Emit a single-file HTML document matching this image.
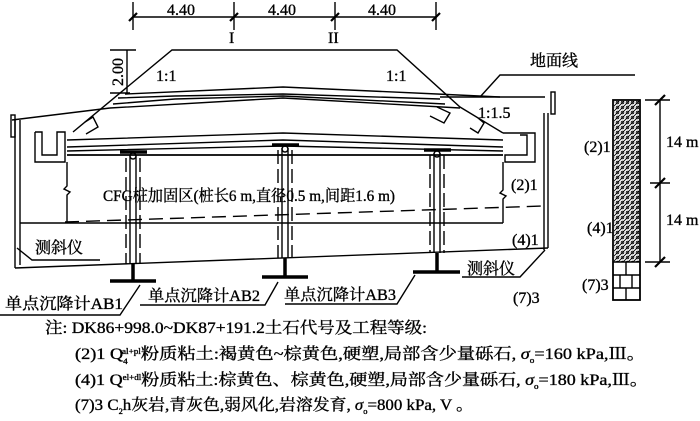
<!DOCTYPE html>
<html><head><meta charset="utf-8"><style>
html,body{margin:0;padding:0;background:#fff}
svg{display:block}
text{font-family:"Liberation Serif","Noto Serif CJK SC",serif;fill:#000;stroke:#000;stroke-width:0.35}
</style></head><body>
<svg width="700" height="421" viewBox="0 0 700 421" xmlns="http://www.w3.org/2000/svg">
<g stroke="#000" fill="none" stroke-width="1.4">
<line x1="133" y1="17" x2="436" y2="17"/>
<line x1="133" y1="2" x2="133" y2="30"/><line x1="234" y1="2" x2="234" y2="30"/>
<line x1="335" y1="2" x2="335" y2="30"/><line x1="436" y1="2" x2="436" y2="30"/>
<g stroke-width="2.2"><line x1="129" y1="21" x2="137" y2="13"/><line x1="230" y1="21" x2="238" y2="13"/><line x1="331" y1="21" x2="339" y2="13"/><line x1="432" y1="21" x2="440" y2="13"/></g>
<line x1="127" y1="50" x2="127" y2="93"/><line x1="110" y1="50" x2="136" y2="50"/><line x1="110" y1="93" x2="130" y2="93"/>
<polyline points="73,132 172,50 397,50 460,107 503,133"/>
<polyline points="125,94 283,87 437,94 500,97"/>
<polyline points="118,98 175,96 283,94 440,99"/>
<polyline points="113,104 175,99 283,96 445,104"/>
<polyline points="110,108 283,98 460,108"/>
<polyline points="12,120 110,108"/>
<polyline points="440,97 545,97"/>
<polyline points="480,97 500,75 635,75"/>
<polyline points="85,122 93,117 98,127 86,134"/>
<polyline points="437,107 450,113 444,123 430,116"/>
<polyline points="478,118 484,123 478,133 470,128"/>
<polyline points="67,140 283,133 503,140"/>
<polyline points="67,147 283,140 503,147"/>
<polyline points="67,151 283,146 503,151"/>
<line x1="67" y1="155" x2="503" y2="155" stroke-width="1.8"/>
<polyline points="35,132 42,132 42,155 57,155 57,132 65,132 65,162 35,162 35,132"/>
<polyline points="503,133 535,133 535,162 505,162 505,155 527,155 527,135 520,135"/>
<rect x="11" y="115" width="4" height="22"/><rect x="551" y="92" width="4" height="22"/>
<line x1="15" y1="120" x2="15" y2="268"/><line x1="20" y1="120" x2="20" y2="265"/>
<line x1="544" y1="113" x2="544" y2="250"/><line x1="548" y1="113" x2="548" y2="248"/>
<line x1="15" y1="268" x2="548" y2="248"/>
<polyline points="67,162 67,186 64,189 70,192 67,195 67,223"/>
<polyline points="503,162 503,190 500,193 506,196 503,199 503,223"/>
<line x1="20" y1="223" x2="503" y2="223"/>
<line x1="65" y1="222" x2="544" y2="206" stroke-dasharray="14,7"/>
<g>
<line x1="130" y1="155" x2="130" y2="264"/><line x1="136" y1="155" x2="136" y2="264"/>
<line x1="126" y1="158" x2="126" y2="264" stroke-dasharray="14,5"/><line x1="140" y1="158" x2="140" y2="264" stroke-dasharray="14,5"/>
<line x1="282" y1="148" x2="282" y2="258"/><line x1="288" y1="148" x2="288" y2="258"/>
<line x1="278" y1="150" x2="278" y2="258" stroke-dasharray="14,5"/><line x1="292" y1="150" x2="292" y2="258" stroke-dasharray="14,5"/>
<line x1="434" y1="153" x2="434" y2="253"/><line x1="440" y1="153" x2="440" y2="253"/>
<line x1="430" y1="155" x2="430" y2="253" stroke-dasharray="14,5"/><line x1="444" y1="155" x2="444" y2="253" stroke-dasharray="14,5"/>
<circle cx="133" cy="156" r="3"/><circle cx="285" cy="149" r="3"/><circle cx="437" cy="154" r="3"/>
</g>
<g stroke-width="3.5">
<line x1="120" y1="152" x2="147" y2="152"/><line x1="272" y1="145" x2="299" y2="145"/><line x1="424" y1="150" x2="451" y2="150"/>
<line x1="133" y1="264" x2="133" y2="281"/><line x1="110" y1="281" x2="156" y2="281"/>
<line x1="285" y1="258" x2="285" y2="277"/><line x1="262" y1="277" x2="308" y2="277"/>
<line x1="437" y1="253" x2="437" y2="272"/><line x1="413" y1="272" x2="460" y2="272"/>
</g>
<polyline points="17,248 32,260 100,260"/>
<polyline points="462,277 520,277 545,250"/>
<polyline points="0,315 120,315 140,285"/>
<polyline points="140,305 265,305 278,282"/>
<polyline points="285,304 397,304 415,275"/>
<rect x="613" y="100" width="27" height="200" stroke-width="1.8"/>
<line x1="613" y1="262" x2="640" y2="262"/>
<line x1="613" y1="275" x2="640" y2="275"/><line x1="613" y1="288" x2="640" y2="288"/>
<line x1="626" y1="262" x2="626" y2="275"/><line x1="620" y1="275" x2="620" y2="288"/><line x1="632" y1="275" x2="632" y2="288"/><line x1="626" y1="288" x2="626" y2="300"/>
<line x1="660" y1="100" x2="660" y2="262"/>
<line x1="645" y1="100" x2="670" y2="100"/><line x1="650" y1="183" x2="670" y2="183"/><line x1="645" y1="262" x2="670" y2="262"/>
<g stroke-width="2.2"><line x1="655" y1="105" x2="665" y2="95"/><line x1="655" y1="188" x2="665" y2="178"/><line x1="655" y1="267" x2="665" y2="257"/></g>
</g>
<pattern id="h" width="5" height="5" patternUnits="userSpaceOnUse"><path d="M0 5L5 0M-1 1L1 -1M4 6L6 4" stroke="#000" stroke-width="0.9"/><circle cx="2.5" cy="2.5" r="1.4" fill="none" stroke="#000" stroke-width="0.7"/></pattern>
<rect x="614" y="101" width="25" height="161" fill="url(#h)"/>
<g font-size="16">
<text x="167" y="15">4.40</text><text x="268" y="15">4.40</text><text x="368" y="15">4.40</text>
<text x="229" y="43">I</text><text x="328" y="43">II</text>
<text x="156" y="81">1:1</text><text x="386" y="81">1:1</text><text x="478" y="118">1:1.5</text>
<text x="530" y="66">地面线</text>
<text transform="translate(123,86) rotate(-90)">2.00</text>
<text x="103" y="201" textLength="292" lengthAdjust="spacingAndGlyphs">CFG桩加固区(桩长6 m,直径0.5 m,间距1.6 m)</text>
<text x="511" y="190">(2)1</text><text x="512" y="245">(4)1</text><text x="513" y="303">(7)3</text>
<text x="35" y="253">测斜仪</text><text x="467" y="274">测斜仪</text>
<text x="5" y="309" textLength="118" lengthAdjust="spacingAndGlyphs">单点沉降计AB1</text>
<text x="148" y="301" textLength="112" lengthAdjust="spacingAndGlyphs">单点沉降计AB2</text>
<text x="284" y="300" textLength="112" lengthAdjust="spacingAndGlyphs">单点沉降计AB3</text>
<text x="584" y="152">(2)1</text><text x="587" y="233">(4)1</text><text x="582" y="290">(7)3</text>
<text x="666" y="147">14 m</text><text x="666" y="225">14 m</text>
<text x="45" y="333" textLength="382" lengthAdjust="spacingAndGlyphs">注: DK86+998.0~DK87+191.2土石代号及工程等级:</text>
<text x="75" y="359" textLength="570" lengthAdjust="spacingAndGlyphs">(2)1 Q<tspan font-size="8" dy="5">4</tspan><tspan font-size="8" dx="-5" dy="-10">al+pl</tspan><tspan dy="5">粉质粘土:褐黄色~棕黄色,硬塑,局部含少量砾石, </tspan><tspan font-style="italic">σ</tspan><tspan font-size="8" dy="4">o</tspan><tspan dy="-4">=160 kPa,Ⅲ。</tspan></text>
<text x="75" y="385" textLength="573" lengthAdjust="spacingAndGlyphs">(4)1 Q<tspan font-size="8" dy="-5">el+dl</tspan><tspan dy="5">粉质粘土:棕黄色、棕黄色,硬塑,局部含少量砾石, </tspan><tspan font-style="italic">σ</tspan><tspan font-size="8" dy="4">o</tspan><tspan dy="-4">=180 kPa,Ⅲ。</tspan></text>
<text x="75" y="410" textLength="398" lengthAdjust="spacingAndGlyphs">(7)3 C<tspan font-size="8" dy="4">2</tspan><tspan dy="-4">h灰岩,青灰色,弱风化,岩溶发育, </tspan><tspan font-style="italic">σ</tspan><tspan font-size="8" dy="4">o</tspan><tspan dy="-4">=800 kPa, V 。</tspan></text>
</g>
</svg>
</body></html>
